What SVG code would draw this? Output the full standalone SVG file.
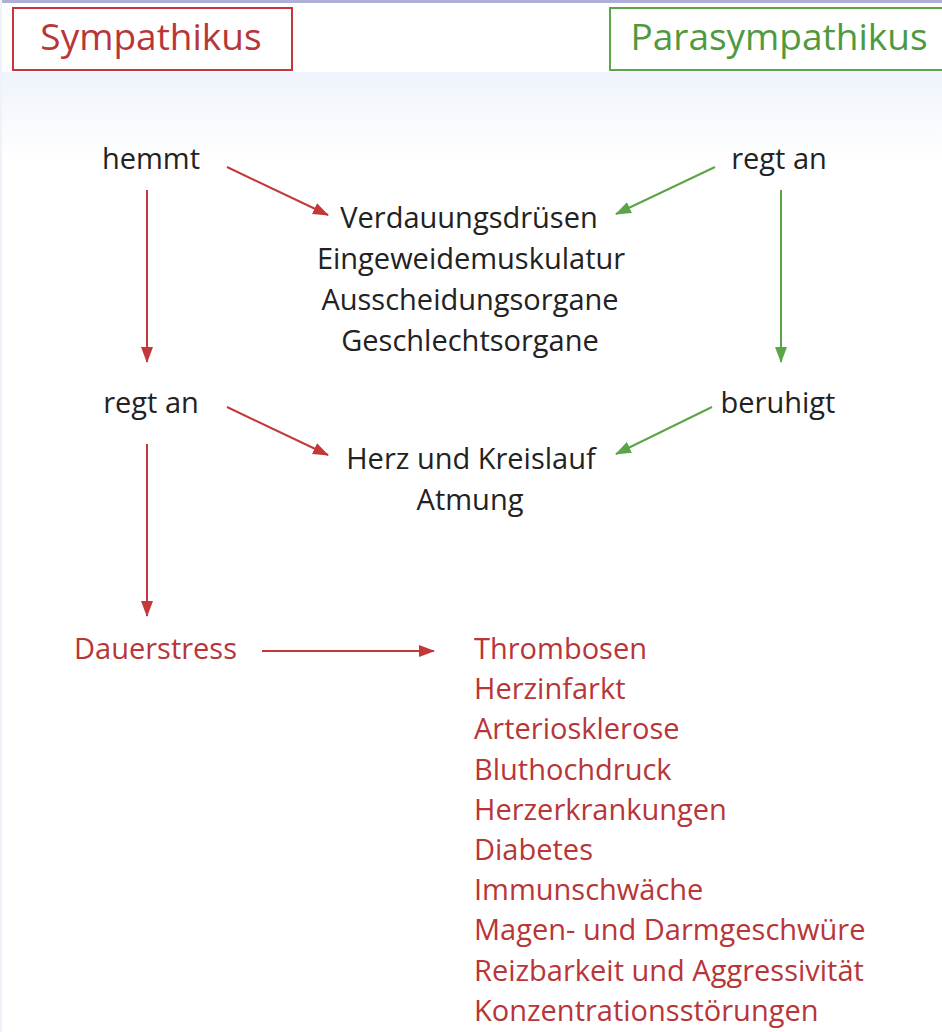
<svg xmlns="http://www.w3.org/2000/svg" width="942" height="1032" viewBox="0 0 942 1032">
<defs>
<linearGradient id="bg" x1="0" y1="0" x2="0" y2="1">
<stop offset="0" stop-color="#eff3fb"/>
<stop offset="1" stop-color="#ffffff"/>
</linearGradient>
<marker id="ar" markerWidth="16" markerHeight="12" refX="15" refY="6" orient="auto" markerUnits="userSpaceOnUse">
<path d="M0,0 L16,6 L0,12 z" fill="#c4373a"/>
</marker>
<marker id="ag" markerWidth="16" markerHeight="12" refX="15" refY="6" orient="auto" markerUnits="userSpaceOnUse">
<path d="M0,0 L16,6 L0,12 z" fill="#5aa646"/>
</marker>
</defs>
<style>
text{font-family:"Open Sans","Noto Sans","Liberation Sans",sans-serif;font-size:29px;}
.blk{fill:#222222;}
.red{fill:#b83538;}
.grn{fill:#4f9a3e;}
.ttl{font-size:37px;}
.rl{stroke:#c4373a;stroke-width:2;fill:none;}
.gl{stroke:#5aa646;stroke-width:2;fill:none;}
</style>
<rect x="0" y="0" width="942" height="1032" fill="#ffffff"/>
<rect x="0" y="72" width="942" height="90" fill="url(#bg)"/>
<rect x="0" y="0" width="942" height="3" fill="#aeb0d8"/>
<rect x="0" y="0" width="2" height="1032" fill="#f1f1fa"/>

<g id="sympathikus">
<rect x="13" y="8" width="279" height="62" fill="#ffffff" stroke="#c4373a" stroke-width="2"/>
<text class="red ttl" x="151" y="50" text-anchor="middle">Sympathikus</text>
</g>
<g id="parasympathikus">
<rect x="610" y="8" width="340" height="62" fill="#ffffff" stroke="#5aa646" stroke-width="2"/>
<text class="grn ttl" x="779" y="50" text-anchor="middle">Parasympathikus</text>
</g>

<g id="hemmt"><text class="blk" x="151" y="169" text-anchor="middle">hemmt</text></g>
<g id="regt-an-para"><text class="blk" x="779" y="169" text-anchor="middle">regt an</text></g>
<g id="organe">
<text class="blk" x="469" y="228" text-anchor="middle">Verdauungsdrüsen</text>
<text class="blk" x="471" y="269" text-anchor="middle">Eingeweidemuskulatur</text>
<text class="blk" x="470" y="310" text-anchor="middle">Ausscheidungsorgane</text>
<text class="blk" x="470" y="351" text-anchor="middle">Geschlechtsorgane</text>
</g>
<g id="regt-an-sym"><text class="blk" x="151" y="413" text-anchor="middle">regt an</text></g>
<g id="beruhigt"><text class="blk" x="778" y="413" text-anchor="middle">beruhigt</text></g>
<g id="herz">
<text class="blk" x="471" y="469" text-anchor="middle">Herz und Kreislauf</text>
<text class="blk" x="470" y="510" text-anchor="middle">Atmung</text>
</g>
<g id="dauerstress"><text class="red" x="74" y="659">Dauerstress</text></g>
<g id="folgen">
<text class="red" x="474" y="659">Thrombosen</text>
<text class="red" x="474" y="699">Herzinfarkt</text>
<text class="red" x="474" y="739">Arteriosklerose</text>
<text class="red" x="474" y="780">Bluthochdruck</text>
<text class="red" x="474" y="820">Herzerkrankungen</text>
<text class="red" x="474" y="860">Diabetes</text>
<text class="red" x="474" y="900">Immunschwäche</text>
<text class="red" x="474" y="940">Magen- und Darmgeschwüre</text>
<text class="red" x="474" y="981">Reizbarkeit und Aggressivität</text>
<text class="red" x="474" y="1021">Konzentrationsstörungen</text>
</g>

<g id="connectors">
<line class="rl" x1="227" y1="167" x2="328" y2="215" marker-end="url(#ar)"/>
<line class="rl" x1="147" y1="190" x2="147" y2="362" marker-end="url(#ar)"/>
<line class="gl" x1="715" y1="167" x2="616" y2="214" marker-end="url(#ag)"/>
<line class="gl" x1="781" y1="190" x2="781" y2="362" marker-end="url(#ag)"/>
<line class="rl" x1="227" y1="407" x2="328" y2="455" marker-end="url(#ar)"/>
<line class="gl" x1="712" y1="407" x2="616" y2="454" marker-end="url(#ag)"/>
<line class="rl" x1="147" y1="444" x2="147" y2="616" marker-end="url(#ar)"/>
<line class="rl" x1="262" y1="651" x2="434" y2="651" marker-end="url(#ar)"/>
</g>
</svg>
